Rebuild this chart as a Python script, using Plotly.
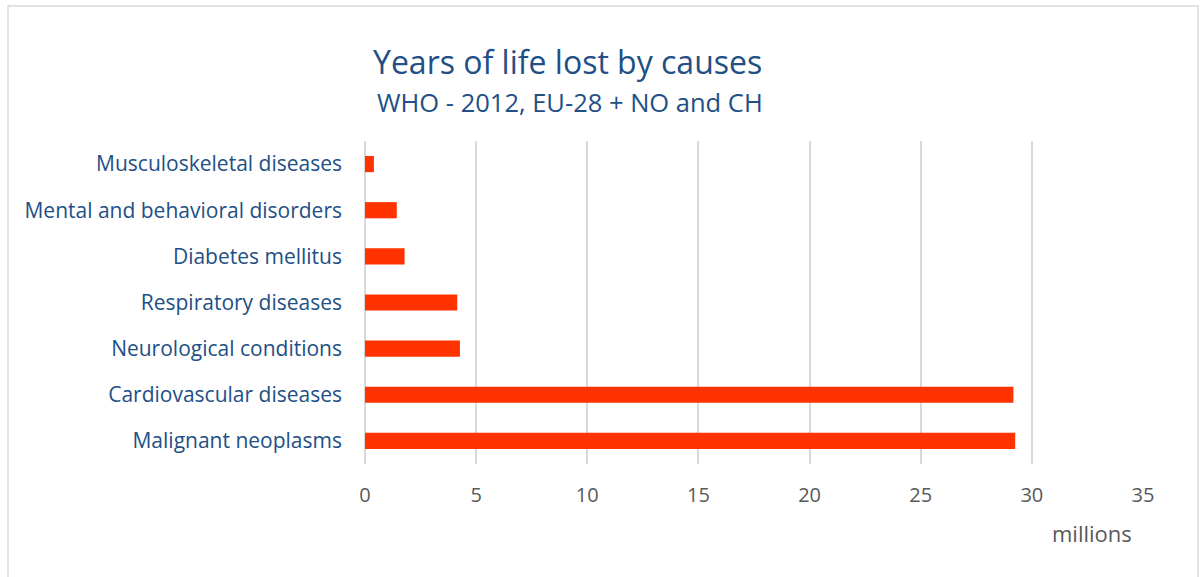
import plotly.graph_objects as go

categories = [
    "Malignant neoplasms",
    "Cardiovascular diseases",
    "Neurological conditions",
    "Respiratory diseases",
    "Diabetes mellitus",
    "Mental and behavioral disorders",
    "Musculoskeletal diseases",
]
values = [29.25, 29.17, 4.27, 4.15, 1.78, 1.43, 0.4]
x_ticks = [0, 5, 10, 15, 20, 25, 30, 35]

TITLE = "Years of life lost by causes"
SUBTITLE = "WHO - 2012, EU-28 + NO and CH"
UNIT = "millions"

W, H = 1203, 577
L, R, T, B = 365, 60, 141, 113
pw, ph = W - L - R, H - T - B

def px_x(px):
    return (px - L) / pw

def px_y(py):
    return (H - B - py) / ph

blue = "#224F85"
gray = "#595959"
FONT = "Open Sans"

fig = go.Figure()
fig.add_trace(go.Bar(
    y=categories, x=values, orientation="h",
    marker=dict(color="#FF3300", line=dict(width=0)),
    width=0.35,
))

fig.update_layout(
    width=W, height=H,
    margin=dict(l=L, r=R, t=T, b=B),
    paper_bgcolor="white", plot_bgcolor="white",
    showlegend=False,
    font=dict(family=FONT),
    xaxis=dict(
        range=[0, 35], tickvals=x_ticks, ticktext=[str(v) for v in x_ticks],
        showgrid=True, gridcolor="#D9D9D9", gridwidth=1.5,
        zeroline=True, zerolinecolor="#D9D9D9", zerolinewidth=1.5,
        showline=False, ticks="", ticklabelstandoff=17,
        tickfont=dict(family=FONT, size=20, color=gray),
        fixedrange=True,
    ),
    yaxis=dict(
        showgrid=False, zeroline=False, showline=False, ticks="",
        ticklabelstandoff=22,
        tickfont=dict(family=FONT, size=21, color=blue),
        range=[-0.5, 6.5],
        fixedrange=True,
    ),
    annotations=[
        dict(text=TITLE, xref="paper", yref="paper",
             x=px_x(567), y=px_y(61), xanchor="center", yanchor="middle",
             showarrow=False, font=dict(family=FONT, size=32, color=blue)),
        dict(text=SUBTITLE, xref="paper", yref="paper",
             x=px_x(570), y=px_y(102), xanchor="center", yanchor="middle",
             showarrow=False, font=dict(family=FONT, size=25.5, color=blue)),
        dict(text=UNIT, xref="paper", yref="paper",
             x=px_x(1092), y=px_y(533), xanchor="center", yanchor="middle",
             showarrow=False, font=dict(family=FONT, size=22, color=gray)),
    ],
    shapes=[
        dict(type="rect", xref="paper", yref="paper",
             x0=px_x(8), x1=px_x(1198), y0=px_y(590), y1=px_y(6),
             line=dict(color="#D9D9D9", width=1.5), fillcolor="rgba(0,0,0,0)",
             layer="below"),
    ],
)

fig.write_html("out.html", config={"displayModeBar": False})
